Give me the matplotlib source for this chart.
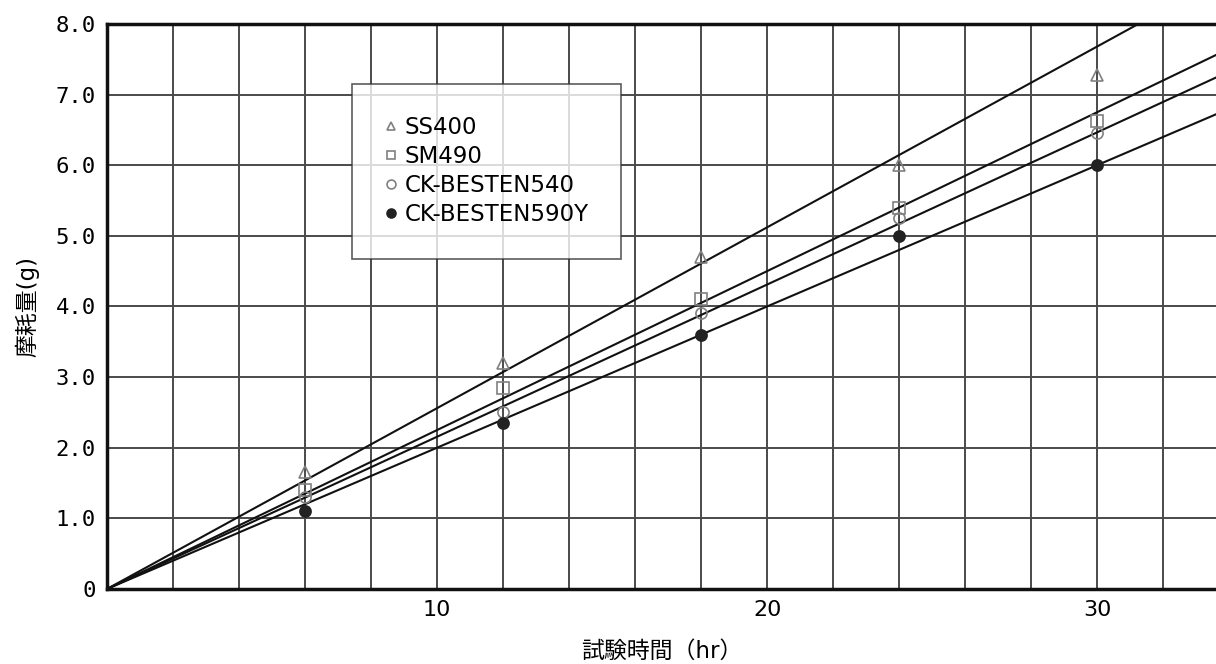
import numpy as np
import matplotlib
matplotlib.use("Agg")
import matplotlib.pyplot as plt

plt.rcParams["font.family"] = ["DejaVu Sans", "Noto Sans CJK JP"]

# ---------------- DATA ----------------
hours = [6, 12, 18, 24, 30]
ss400 = [1.65, 3.2, 4.7, 6.0, 7.28]
sm490 = [1.4, 2.85, 4.1, 5.4, 6.62]
ck540 = [1.3, 2.5, 3.9, 5.25, 6.45]
ck590y = [1.1, 2.35, 3.6, 5.0, 6.0]

# wear rate of the drawn trend lines (g/hr)
rates = [0.256, 0.225, 0.2155, 0.200]

names = ["SS400", "SM490", "CK-BESTEN540", "CK-BESTEN590Y"]
markers = ["^", "s", "o", "o"]
filled = [False, False, False, True]

fig = plt.figure(figsize=(12.16, 6.64), dpi=100)
ax = fig.add_axes([0.088, 0.113, 0.912, 0.851])

x_line = np.linspace(0, 34, 100)
handles = []
for name, vals, rate, mk, fill in zip(names, [ss400, sm490, ck540, ck590y],
                                      rates, markers, filled):
    ax.plot(x_line, rate * x_line, color="#111111", lw=1.5, zorder=3)
    fc = "#222222" if fill else "none"
    ec = "#222222" if fill else "#808080"
    h = ax.plot(hours, vals, linestyle="none", marker=mk, markersize=8,
                markerfacecolor=fc, markeredgecolor=ec, markeredgewidth=1.2,
                zorder=4, label=name)[0]
    handles.append(h)

ax.set_xlim(0, 33.6)
ax.set_ylim(0, 8)
ax.set_xticks(np.arange(0, 34, 2), minor=True)
ax.set_xticks([10, 20, 30])
ax.set_yticks(np.arange(0, 8.1, 1))
ax.set_yticklabels(["0"] + [f"{v:.1f}" for v in np.arange(1, 8.1, 1)],
                   family="DejaVu Sans Mono")
ax.tick_params(which="both", length=0, labelsize=16, pad=8)
ax.grid(True, which="both", color="#4a4a4a", lw=1.4)
ax.set_axisbelow(True)

for side in ["left", "bottom", "top"]:
    ax.spines[side].set_linewidth(2.5)
    ax.spines[side].set_color("#111111")
ax.spines["right"].set_visible(False)

ax.set_xlabel("試験時間（hr）", fontsize=16.5, labelpad=14)
ax.set_ylabel("摩耗量(g)", fontsize=16.5, labelpad=12)

leg = ax.legend(handles=handles, loc="upper left", bbox_to_anchor=(0.221, 0.894),
                fontsize=16.5, frameon=True, fancybox=False, edgecolor="#333333",
                handlelength=0.6, handletextpad=0.3, labelspacing=0.27,
                borderpad=1.4, markerscale=0.8, borderaxespad=0)
leg.get_frame().set_linewidth(1.2)
leg.set_zorder(5)

fig.savefig("out.png", dpi=100)
